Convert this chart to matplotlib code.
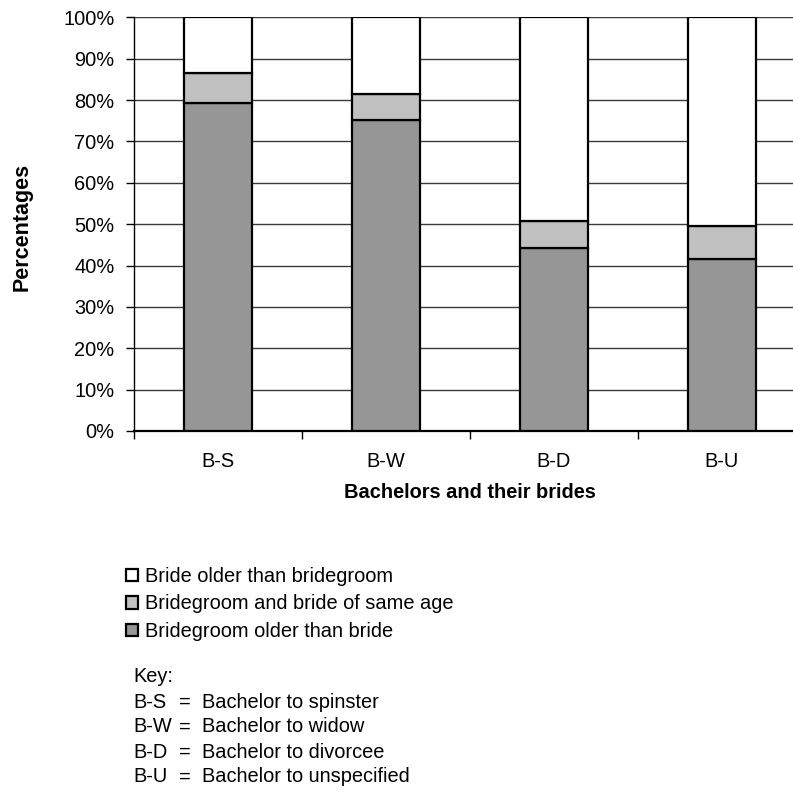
import matplotlib
matplotlib.use("Agg")
import matplotlib.pyplot as plt
import numpy as np

plt.rcParams['font.family'] = ['Liberation Sans', 'DejaVu Sans']

categories = ["B-S", "B-W", "B-D", "B-U"]
groom_older = [79.2, 75.2, 44.3, 41.6]
same_age = [7.4, 6.2, 6.4, 7.9]
bride_older = [13.4, 18.6, 49.3, 50.5]
series_labels = ["Bridegroom older than bride", "Bridegroom and bride of same age", "Bride older than bridegroom"]
colors = ["#969696", "#C0C0C0", "#FFFFFF"]
yticks = [0, 10, 20, 30, 40, 50, 60, 70, 80, 90, 100]
key_codes = ["B-S", "B-W", "B-D", "B-U"]
key_desc = ["Bachelor to spinster", "Bachelor to widow", "Bachelor to divorcee", "Bachelor to unspecified"]

FS = 14.4
W = H = 793
fig = plt.figure(figsize=(W / 100, H / 100), dpi=100)
ax = fig.add_axes([134 / W, 1 - 431 / H, 672 / W, (431 - 17.3) / H])

x = np.arange(len(categories))
bottom = np.zeros(len(categories))
handles = []
for vals, col, lab in zip([groom_older, same_age, bride_older], colors, series_labels):
    b = ax.bar(x, vals, bottom=bottom, width=0.4, color=col, edgecolor="black",
               linewidth=1.6, label=lab, zorder=3)
    handles.append(b)
    bottom += np.array(vals)

ax.set_xlim(-0.5, len(categories) - 0.5)
ax.set_ylim(0, 100)
ax.set_yticks(yticks)
ax.set_yticklabels([f"{t}%" for t in yticks], fontsize=FS)
ax.yaxis.grid(True, color="#3a3a3a", linewidth=1.0, zorder=0)
ax.set_xticks(x)
ax.set_xticklabels(categories, fontsize=FS)
ax.set_xticks(np.arange(len(categories) + 1) - 0.5, minor=True)
ax.tick_params(axis="x", which="major", length=0, pad=15)
ax.tick_params(axis="x", which="minor", length=6, direction="out", width=1)
ax.tick_params(axis="y", length=6, width=1, pad=8)
for s in ["top", "right"]:
    ax.spines[s].set_visible(False)
ax.spines["left"].set_linewidth(1.0)
ax.spines["bottom"].set_linewidth(1.6)

fig.text(22 / W, 1 - 227 / H, "Percentages", rotation=90, fontsize=15.5,
         fontweight="bold", ha="center", va="center")
fig.text(470 / W, 1 - 493 / H, "Bachelors and their brides", fontsize=FS,
         fontweight="bold", ha="center", va="center")

leg = fig.legend(handles[::-1], series_labels[::-1], loc="upper left",
                 bbox_to_anchor=(126 / W, 1 - 567 / H), frameon=False,
                 fontsize=FS, handlelength=0.62, handleheight=0.58,
                 handletextpad=0.35, labelspacing=0.42, borderpad=0, borderaxespad=0)
for h in leg.legend_handles:
    h.set_linewidth(1.6)

fig.text(133 / W, 1 - 677 / H, "Key:", fontsize=FS, ha="left", va="center")
for i, (c, d) in enumerate(zip(key_codes, key_desc)):
    yy = 1 - (702 + 25 * i) / H
    fig.text(133 / W, yy, c, fontsize=FS, ha="left", va="center")
    fig.text(185 / W, yy, "=", fontsize=FS, ha="center", va="center")
    fig.text(202 / W, yy, d, fontsize=FS, ha="left", va="center")

fig.savefig("out.png", dpi=100)
